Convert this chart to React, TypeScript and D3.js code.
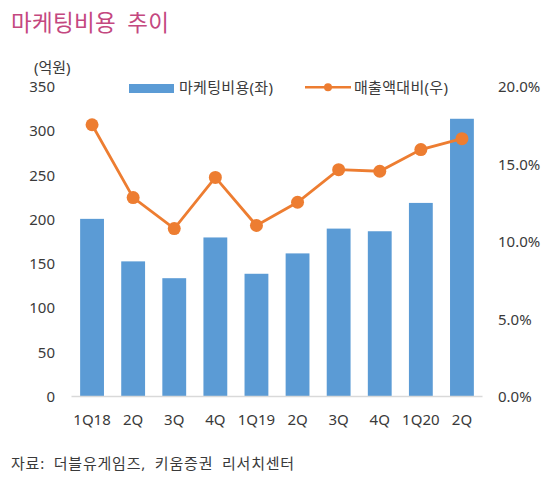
import React from "react";
import * as d3 from "d3";

const categories = ["1Q18", "2Q", "3Q", "4Q", "1Q19", "2Q ", "3Q ", "4Q ", "1Q20", "2Q  "];
const marketingCost = [200, 152, 133, 179, 138, 161, 189, 186, 218, 313];
const salesRatio = [17.5, 12.8, 10.8, 14.1, 11.0, 12.5, 14.6, 14.5, 15.9, 16.6];
const leftTicks = [0, 50, 100, 150, 200, 250, 300, 350];
const rightTicks = [0, 5, 10, 15, 20];
const title = "마케팅비용 추이";
const unitLabel = "(억원)";
const legendBar = "마케팅비용(좌)";
const legendLine = "매출액대비(우)";
const source = "자료: 더블유게임즈, 키움증권 리서치센터";

const W = 556;
const H = 477;
const FONT = "'Noto Sans', 'Noto Sans CJK KR', sans-serif";
const TEXT = "#3a3a3a";
const BLUE = "#5b9bd5";
const ORANGE = "#ed7d31";

export default function App() {
  const x = d3
    .scaleBand<string>()
    .domain(categories)
    .range([71.5, 482.5])
    .paddingInner(0.42)
    .paddingOuter(0.21);
  const yL = d3.scaleLinear().domain([0, 350]).range([396, 86]);
  const yR = d3.scaleLinear().domain([0, 20]).range([396, 86]);
  const cx = (c: string) => (x(c) as number) + x.bandwidth() / 2;
  const line = d3
    .line<number>()
    .x((_, i) => cx(categories[i]))
    .y((d) => yR(d));

  return (
    <svg
      width={W}
      height={H}
      style={{ position: "absolute", left: 0, top: 0, background: "#fff" }}
      fontFamily={FONT}
    >
      <text x={11} y={22.5} fontSize={22.5} fill="#c4487f" dominantBaseline="central" wordSpacing={5} letterSpacing={0.3}>
        {title}
      </text>
      <text x={34} y={66.5} fontSize={15} fill={TEXT} dominantBaseline="central">
        {unitLabel}
      </text>

      {/* legend */}
      <rect x={129} y={84} width={45} height={9} fill={BLUE} />
      <text x={179} y={87} fontSize={15} fill={TEXT} dominantBaseline="central" letterSpacing={0.3}>
        {legendBar}
      </text>
      <line x1={305} x2={351} y1={87.3} y2={87.3} stroke={ORANGE} strokeWidth={2.5} />
      <circle cx={328} cy={87.3} r={4} fill={ORANGE} />
      <text x={354} y={87} fontSize={15} fill={TEXT} dominantBaseline="central" letterSpacing={0.3}>
        {legendLine}
      </text>

      {/* left axis labels */}
      {leftTicks.map((t) => (
        <text
          key={"l" + t}
          x={55}
          y={yL(t)}
          fontSize={15}
          fill={TEXT}
          textAnchor="end"
          dominantBaseline="central"
        >
          {t}
        </text>
      ))}
      {/* right axis labels */}
      {rightTicks.map((t) => (
        <text
          key={"r" + t}
          x={498}
          y={yR(t)}
          fontSize={15}
          fill={TEXT}
          dominantBaseline="central"
        >
          {d3.format(".1f")(t) + "%"}
        </text>
      ))}

      {/* bars */}
      {marketingCost.map((v, i) => (
        <rect
          key={"b" + i}
          x={x(categories[i])}
          y={yL(v)}
          width={x.bandwidth()}
          height={yL(0) - yL(v)}
          fill={BLUE}
        />
      ))}

      {/* baseline */}
      <line x1={71.5} x2={482.5} y1={396.5} y2={396.5} stroke="#d9d9d9" strokeWidth={1.5} />

      {/* x labels */}
      {categories.map((c) => (
        <text
          key={"x" + c}
          x={cx(c)}
          y={418.5}
          fontSize={15}
          fill={TEXT}
          textAnchor="middle"
          dominantBaseline="central"
        >
          {c.trim()}
        </text>
      ))}

      {/* line */}
      <path d={line(salesRatio) || ""} fill="none" stroke={ORANGE} strokeWidth={2.8} />
      {salesRatio.map((v, i) => (
        <circle key={"p" + i} cx={cx(categories[i])} cy={yR(v)} r={6.5} fill={ORANGE} />
      ))}

      <text x={11} y={463} fontSize={15} fill={TEXT} dominantBaseline="central" wordSpacing={4} letterSpacing={0.8}>
        {source}
      </text>
    </svg>
  );
}
